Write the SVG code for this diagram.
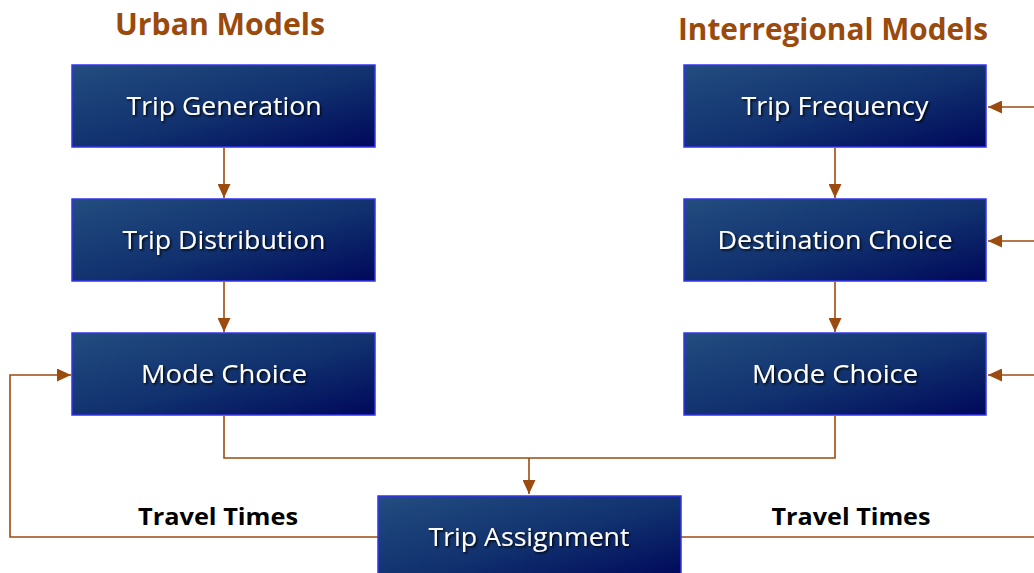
<svg xmlns="http://www.w3.org/2000/svg" width="1034" height="573" viewBox="0 0 1034 573">
<style>
.box{fill:url(#bg);stroke:#3535ee;stroke-width:1.5}
.lbl{font-family:"Open Sans","Liberation Sans",sans-serif;font-size:25px;fill:#ffffff;text-anchor:middle;filter:url(#sh)}
.ttl{font-family:"Open Sans","Liberation Sans",sans-serif;font-weight:bold;font-size:30px;fill:#9a4a0c;text-anchor:middle}
.tt{font-family:"Open Sans","Liberation Sans",sans-serif;font-weight:bold;font-size:24px;fill:#000000;text-anchor:middle}
.con{fill:none;stroke:#9c4b10;stroke-width:1.6}
.arr{marker-end:url(#ah)}
</style>
<defs>
<linearGradient id="bg" x1="0" y1="0" x2="1" y2="1">
<stop offset="0" stop-color="#234d80"/>
<stop offset="0.55" stop-color="#10306e"/>
<stop offset="1" stop-color="#00085a"/>
</linearGradient>
<filter id="sh" x="-10%" y="-30%" width="120%" height="160%">
<feDropShadow dx="1.5" dy="1.5" stdDeviation="1" flood-color="#000000" flood-opacity="0.9"/>
</filter>
<marker id="ah" viewBox="0 0 10 10" refX="10" refY="5" markerWidth="14" markerHeight="13" markerUnits="userSpaceOnUse" orient="auto" preserveAspectRatio="none">
<path d="M0,0 L10,5 L0,10 z" fill="#9c4b10"/>
</marker>
</defs>
<rect width="1034" height="573" fill="#ffffff"/>
<text class="ttl" x="220" y="35" textLength="210" lengthAdjust="spacingAndGlyphs">Urban Models</text>
<text class="ttl" x="833" y="40" textLength="310" lengthAdjust="spacingAndGlyphs">Interregional Models</text>
<g id="connectors">
<path class="con arr" d="M224,148 V198"/>
<path class="con arr" d="M224,282 V332"/>
<path class="con arr" d="M835,148 V198"/>
<path class="con arr" d="M835,282 V332"/>
<path class="con" d="M224,416 V458 H835 V416"/>
<path class="con arr" d="M529,458 V494"/>
<path class="con arr" d="M378,537 H10 V375 H71"/>
<path class="con" d="M681,537 H1034"/>
<path class="con arr" d="M1034,107 H988"/>
<path class="con arr" d="M1034,241 H988"/>
<path class="con arr" d="M1034,375 H988"/>
</g>
<text class="tt" x="218" y="525" textLength="160" lengthAdjust="spacingAndGlyphs">Travel Times</text>
<text class="tt" x="851" y="525" textLength="159" lengthAdjust="spacingAndGlyphs">Travel Times</text>
<g id="trip-generation"><rect class="box" x="72" y="65" width="303" height="82"/><text class="lbl" x="224" y="115" textLength="195" lengthAdjust="spacingAndGlyphs">Trip Generation</text></g>
<g id="trip-distribution"><rect class="box" x="72" y="199" width="303" height="82"/><text class="lbl" x="224" y="249" textLength="203" lengthAdjust="spacingAndGlyphs">Trip Distribution</text></g>
<g id="mode-choice-urban"><rect class="box" x="72" y="333" width="303" height="82"/><text class="lbl" x="224" y="383" textLength="166" lengthAdjust="spacingAndGlyphs">Mode Choice</text></g>
<g id="trip-frequency"><rect class="box" x="684" y="65" width="302" height="82"/><text class="lbl" x="835" y="115" textLength="187" lengthAdjust="spacingAndGlyphs">Trip Frequency</text></g>
<g id="destination-choice"><rect class="box" x="684" y="199" width="302" height="82"/><text class="lbl" x="835" y="249" textLength="235" lengthAdjust="spacingAndGlyphs">Destination Choice</text></g>
<g id="mode-choice-interregional"><rect class="box" x="684" y="333" width="302" height="82"/><text class="lbl" x="835" y="383" textLength="166" lengthAdjust="spacingAndGlyphs">Mode Choice</text></g>
<g id="trip-assignment"><rect class="box" x="378" y="496" width="303" height="82"/><text class="lbl" x="529" y="546" textLength="201" lengthAdjust="spacingAndGlyphs">Trip Assignment</text></g>
</svg>
